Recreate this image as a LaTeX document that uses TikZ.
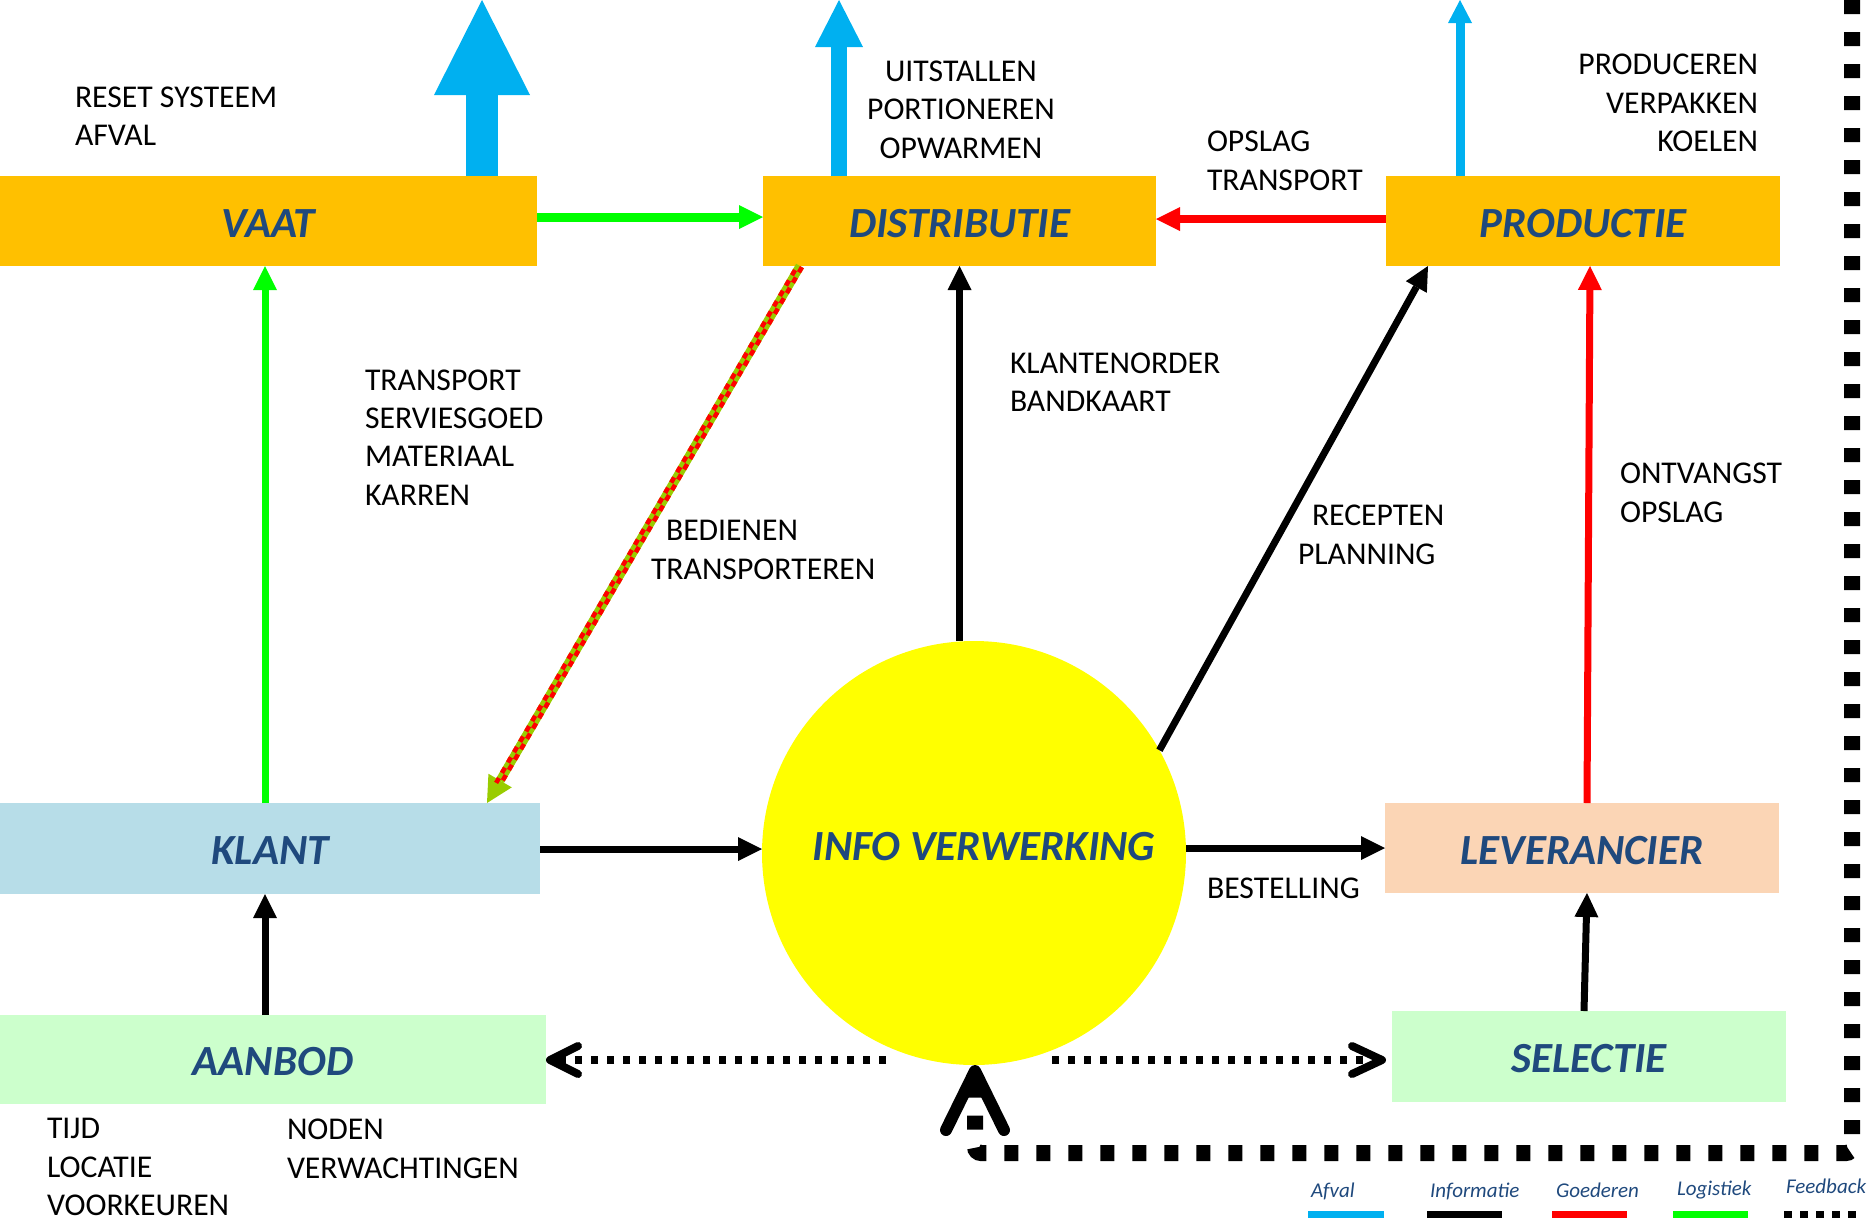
\documentclass[tikz,border=0pt]{standalone}
\usepackage{fontspec}
\setmainfont{Carlito}
\usetikzlibrary{arrows.meta}
\definecolor{orng}{HTML}{FFC000}
\definecolor{skyb}{HTML}{00B0F0}
\definecolor{lgreen}{HTML}{00FF00}
\definecolor{ygreen}{HTML}{99CC00}
\definecolor{txtblue}{HTML}{1F497D}
\definecolor{klantc}{HTML}{B7DDE8}
\definecolor{levc}{HTML}{FBD5B5}
\definecolor{mintc}{HTML}{CCFFCC}
\definecolor{infoc}{HTML}{FFFF00}
\begin{document}
\begin{tikzpicture}[x=1pt,y=-1pt,
  box/.style={rectangle, inner sep=0pt, outer sep=0pt, text=txtblue,
    text height=32pt, text depth=0pt,
    font=\fontsize{43}{50}\selectfont\bfseries\itshape},
  lbl/.style={inner sep=0pt, outer sep=0pt, text=black, align=left,
    font=\fontsize{31.7}{38.4}\selectfont},
  leg/.style={inner sep=0pt, outer sep=0pt, anchor=base west, text=txtblue,
    font=\fontsize{21}{25}\selectfont\itshape},
  tri/.style={-{Triangle[length=24pt,width=24pt,line width=0pt]}},
  info/.style={line width=7pt, black, tri},
  dotl/.style={line width=8pt, dash pattern=on 7pt off 9pt},
  chev/.style={line width=8pt, line cap=round, line join=round},
  legbar/.style={line width=7pt}
]
\useasboundingbox (0,0) rectangle (1872,1219);

% ---------- boxes ----------
\node[box, fill=orng, minimum width=537pt, minimum height=90pt] (vaat) at (268.5,221) {VAAT};
\node[box, fill=orng, minimum width=393pt, minimum height=90pt] (dist) at (959.5,221) {DISTRIBUTIE};
\node[box, fill=orng, minimum width=394pt, minimum height=90pt] (prod) at (1583,221) {PRODUCTIE};
\node[box, fill=klantc, minimum width=540pt, minimum height=91pt] (klant) at (270,848.5) {KLANT};
\node[box, fill=levc, minimum width=394pt, minimum height=90pt] (lev) at (1582,848) {LEVERANCIER};
\node[box, fill=mintc, minimum width=546pt, minimum height=89pt] (aanbod) at (273,1059.5) {AANBOD};
\node[box, fill=mintc, minimum width=394pt, minimum height=91pt] (sel) at (1589,1056.5) {SELECTIE};
\node[box, circle, fill=infoc, minimum size=424pt, text height=15pt] (info) at (974,853) {\hspace*{20pt}INFO VERWERKING};

% ---------- free end points ----------
\coordinate (vaatTop) at (482,0);
\coordinate (distTop) at (839,0);
\coordinate (prodTop) at (1460,0);

% ---------- waste arrows ----------
\draw[skyb, line width=32pt, -{Triangle[length=95pt,width=96pt,line width=0pt]}]
  ([xshift=482pt]vaat.north west) -- (vaatTop);
\draw[skyb, line width=16pt, -{Triangle[length=47pt,width=48pt,line width=0pt]}]
  ([xshift=76pt]dist.north west) -- (distTop);
\draw[skyb, line width=9pt, -{Triangle[length=23pt,width=24pt,line width=0pt]}]
  ([xshift=74pt]prod.north west) -- (prodTop);

% ---------- logistics ----------
\draw[lgreen, line width=9pt, tri] ([yshift=4pt]vaat.east) -- ([yshift=4pt]dist.west);
\draw[lgreen, line width=7pt, tri] ([xshift=265pt]klant.north west) -- ([xshift=265pt]vaat.south west);

% ---------- goods ----------
\draw[red, line width=8pt, tri] ([yshift=2pt]prod.west) -- ([yshift=2pt]dist.east);
\draw[red, line width=7pt, tri] ([xshift=5pt]lev.north) -- ([xshift=7pt]prod.south);

% ---------- checkered (goods + logistics) ----------
\draw[ygreen, line width=9pt, -{Triangle[length=26pt,width=27pt,line width=0pt]}]
  ([xshift=37pt]dist.south west) -- ([xshift=487pt]klant.north west);
\draw[red, line width=4.5pt, dash pattern=on 6pt off 6pt, shorten >=22pt,
  transform canvas={shift={(1.94,1.13)}}]
  ([xshift=37pt]dist.south west) -- ([xshift=487pt]klant.north west);
\draw[red, line width=4.5pt, dash pattern=on 6pt off 6pt, dash phase=6pt, shorten >=22pt,
  transform canvas={shift={(-1.94,-1.13)}}]
  ([xshift=37pt]dist.south west) -- ([xshift=487pt]klant.north west);

% ---------- information ----------
\draw[info] (info.north -| dist.south) -- (dist.south);
\draw[info] (info.29.5) -- ([xshift=42pt]prod.south west);
\draw[info] ([yshift=-0.5pt]klant.east) -- ([yshift=-0.5pt]klant.east -| info.west);
\draw[info] (lev.west -| info.east) -- (lev.west);
\draw[info] ([xshift=265pt]aanbod.north west) -- ([xshift=265pt]klant.south west);
\draw[info] ([xshift=-5pt]sel.north) -- ([xshift=5pt]lev.south);

% ---------- dotted arrows ----------
\coordinate (dlStart) at (886,1060);
\coordinate (dlEnd) at (556,1060);
\coordinate (dlTip) at (550,1060);
\coordinate (dlA) at (578,1046);
\coordinate (dlB) at (578,1074);
\draw[dotl] (dlStart) -- (dlEnd);
\draw[chev] (dlA) -- (dlTip) -- (dlB);

\coordinate (drStart) at (1052,1060);
\coordinate (drEnd) at (1376,1060);
\coordinate (drTip) at (1382,1060);
\coordinate (drA) at (1352,1046);
\coordinate (drB) at (1352,1074);
\draw[dotl] (drStart) -- (drEnd);
\draw[chev] (drA) -- (drTip) -- (drB);

% ---------- feedback loop ----------
\coordinate (fbStart) at (1852,0);
\coordinate (fbC1) at (1852,1153);
\coordinate (fbC2) at (975,1153);
\coordinate (fbEnd) at (975,1082);
\coordinate (fbTip) at (975,1071);
\coordinate (fbL) at (946,1130);
\coordinate (fbR) at (1004,1130);
\draw[line width=16pt, dash pattern=on 14pt off 18pt, rounded corners=6pt]
  (fbStart) -- (fbC1) -- (fbC2) -- (fbEnd);
\draw[line width=12pt, line cap=round, line join=round] (fbL) -- (fbTip) -- (fbR);

% ---------- labels ----------
\node[lbl, anchor=west] (tReset) at (75,116) {RESET SYSTEEM\\AFVAL};
\node[lbl, anchor=center, align=center] (tUit) at (961,109.5) {UITSTALLEN\\PORTIONEREN\\OPWARMEN};
\node[lbl, anchor=west] (tOps) at (1207,161) {OPSLAG\\TRANSPORT};
\node[lbl, anchor=east, align=right] (tProd) at (1758,103) {PRODUCEREN\\VERPAKKEN\\KOELEN};
\node[lbl, anchor=west] (tTrans) at (365,437.5) {TRANSPORT\\SERVIESGOED\\MATERIAAL\\KARREN};
\node[lbl, anchor=west] (tBed) at (651,550) {\hspace*{15pt}BEDIENEN\\TRANSPORTEREN};
\node[lbl, anchor=west] (tKlo) at (1010,382.5) {KLANTENORDER\\BANDKAART};
\node[lbl, anchor=west] (tRec) at (1298,535) {\hspace*{14pt}RECEPTEN\\PLANNING};
\node[lbl, anchor=west] (tOnt) at (1620,493) {ONTVANGST\\OPSLAG};
\node[lbl, anchor=west] (tBes) at (1207,888) {BESTELLING};
\node[lbl, anchor=west] (tTijd) at (47,1167) {TIJD\\LOCATIE\\VOORKEUREN};
\node[lbl, anchor=west] (tNod) at (287,1149) {NODEN\\VERWACHTINGEN};

% ---------- legend ----------
\node[leg] (lgA) at (1311,1197) {Afval};
\node[leg] (lgI) at (1430,1197) {Informatie};
\node[leg] (lgG) at (1556,1197) {Goederen};
\node[leg] (lgL) at (1677,1195) {Logistiek};
\node[leg] (lgF) at (1786,1193) {Feedback};
\coordinate (bA1) at (1308,1214.5); \coordinate (bA2) at (1384,1214.5);
\coordinate (bI1) at (1427,1214.5); \coordinate (bI2) at (1502,1214.5);
\coordinate (bG1) at (1552,1214.5); \coordinate (bG2) at (1627,1214.5);
\coordinate (bL1) at (1673,1214.5); \coordinate (bL2) at (1748,1214.5);
\coordinate (bF1) at (1784,1214.5); \coordinate (bF2) at (1856,1214.5);
\draw[legbar, skyb] (bA1) -- (bA2);
\draw[legbar, black] (bI1) -- (bI2);
\draw[legbar, red] (bG1) -- (bG2);
\draw[legbar, lgreen] (bL1) -- (bL2);
\draw[legbar, black, dash pattern=on 8pt off 8pt] (bF1) -- (bF2);
\end{tikzpicture}
\end{document}
